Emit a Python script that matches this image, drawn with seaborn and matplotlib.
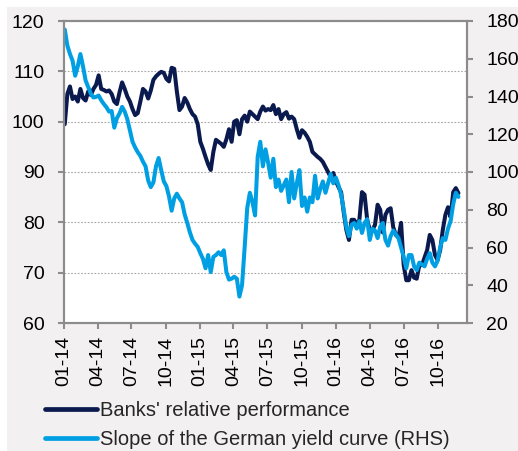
import numpy as np
import pandas as pd
import matplotlib
matplotlib.use("Agg")
import matplotlib.pyplot as plt
import matplotlib.dates as mdates
from matplotlib.patches import Rectangle
import seaborn as sns

# Weekly observations, Friday closes from early January 2014
dates = pd.date_range("2014-01-03", periods=152, freq="7D")

# Banks' relative performance (left axis)
banks = [
    99.5, 105.5, 107.0, 104.5, 105.0, 104.0, 106.5, 104.7, 104.2, 106.0,
    105.3, 106.5, 107.3, 109.2, 106.5, 106.3, 106.0, 106.2, 105.5, 104.0,
    103.5, 105.8, 107.8, 106.5, 105.0, 104.0, 102.5, 101.3, 101.7, 104.0,
    106.5, 106.0, 104.6, 106.2, 108.3, 109.0, 109.5, 109.9, 109.7, 108.5,
    108.0, 110.7, 110.5, 106.0, 102.3, 103.0, 104.7, 103.8, 102.5, 101.5,
    101.0, 99.5, 96.0, 94.6, 93.0, 91.5, 90.4, 94.0, 96.4, 96.0,
    95.6, 95.0, 96.5, 98.5, 96.0, 100.0, 100.3, 97.5, 100.5, 101.2,
    100.0, 102.0, 101.5, 101.0, 100.5, 102.0, 103.0, 102.2, 102.5, 102.3,
    103.3, 101.5, 102.5, 100.5, 101.5, 101.9, 100.6, 101.0, 100.5, 98.5,
    96.8, 98.3, 97.8, 97.0, 96.0, 94.0, 93.5, 93.0, 92.6, 92.0,
    91.0, 90.0, 89.0, 89.8, 88.2, 87.0, 86.0, 82.0, 78.5, 76.5,
    80.5, 80.5, 79.5, 80.5, 86.0, 85.5, 80.5, 78.5, 78.5, 79.5,
    83.5, 82.5, 78.0, 81.5, 82.5, 82.8, 79.0, 77.5, 77.0, 79.9,
    71.5, 68.5, 68.5, 70.5, 69.0, 68.8, 71.5, 71.5, 73.0, 74.5,
    77.5, 76.5, 73.5, 72.5, 74.5, 78.5, 81.5, 83.0, 81.0, 86.0,
    86.8, 85.8,
]

# Slope of the German yield curve, bp (right axis)
slope = [
    175.5, 167.0, 162.5, 159.0, 151.0, 156.0, 162.5, 156.0, 148.5, 145.0,
    141.5, 139.5, 139.8, 140.5, 138.0, 136.0, 134.3, 132.0, 132.3, 123.5,
    128.5, 131.0, 134.5, 132.0, 128.0, 122.0, 116.0, 113.0, 110.5, 108.5,
    105.5, 103.0, 95.5, 92.0, 94.5, 103.0, 107.4, 101.0, 95.0, 92.5,
    87.0, 79.5, 86.0, 88.5, 86.0, 84.0, 77.5, 73.0, 68.0, 64.0,
    62.0, 60.3, 57.0, 54.0, 49.0, 56.0, 47.0, 55.0, 56.0, 57.5,
    56.0, 58.5, 47.0, 43.0, 43.5, 44.5, 43.5, 34.0, 40.0, 60.0,
    81.0, 89.0, 84.0, 77.0, 108.0, 116.0, 103.0, 112.0, 105.0, 97.0,
    107.0, 92.0, 96.0, 90.0, 93.0, 96.0, 84.0, 100.0, 86.0, 94.0,
    101.0, 82.0, 86.5, 79.0, 86.5, 84.0, 98.0, 86.0, 91.0, 95.0,
    89.0, 94.0, 99.0, 94.0, 97.0, 93.0, 88.0, 80.0, 71.0, 66.0,
    72.0, 73.0, 70.0, 74.0, 67.7, 73.0, 75.0, 64.0, 70.0, 69.0,
    65.0, 71.0, 73.0, 64.0, 61.0, 66.0, 69.0, 67.0, 65.0, 60.0,
    55.0, 49.0, 56.0, 56.0, 50.0, 48.0, 52.0, 51.0, 50.0, 54.0,
    57.0, 52.0, 50.0, 53.0, 60.0, 65.0, 64.0, 70.0, 74.0, 83.0,
    89.0, 86.8,
]

labels = ["Banks' relative performance", "Slope of the German yield curve (RHS)"]
navy = "#0b1a4e"
sky = "#009fe3"
frame_grey = "#8c8c8c"

sns.set_style("white")
plt.rcParams["font.family"] = ["Liberation Sans", "DejaVu Sans"]

W, H = 518, 451
fig = plt.figure(figsize=(W / 100, H / 100), dpi=100, facecolor="white")
fig.patches.append(Rectangle((7 / W, 0), 1, (H - 7) / H, transform=fig.transFigure,
                             facecolor="#f2f0f1", edgecolor="none", zorder=-10))

ax = fig.add_axes([64 / W, 128 / H, (467 - 64) / W, (323 - 21) / H])
ax.set_facecolor("white")
ax2 = ax.twinx()

sns.lineplot(x=dates, y=banks, ax=ax, color=navy, linewidth=2.9, label=labels[0], legend=False)
sns.lineplot(x=dates, y=slope, ax=ax2, color=sky, linewidth=2.9, label=labels[1], legend=False)

ax.set_xlim(pd.Timestamp("2014-01-01"), pd.Timestamp("2016-12-18"))
ax.set_ylim(60, 120)
ax.set_yticks(np.arange(60, 121, 10))
ax2.set_ylim(20, 180)
ax2.set_yticks(np.arange(20, 181, 20))

ax.xaxis.set_major_locator(mdates.MonthLocator(bymonth=[1, 4, 7, 10]))
ax.xaxis.set_major_formatter(mdates.DateFormatter("%m-%y"))
for lab in ax.get_xticklabels():
    lab.set_rotation(90)

ax.yaxis.grid(True, linestyle=(0, (1.5, 1.5)), color="#a6a6a6", linewidth=0.8)
ax.set_axisbelow(True)
ax.set_xlabel("")
ax.set_ylabel("")
ax2.set_ylabel("")

for a in (ax, ax2):
    for sp in a.spines.values():
        sp.set_color(frame_grey)
        sp.set_linewidth(1.5)
        sp.set_visible(True)
    a.tick_params(axis="both", which="major", direction="out", length=4,
                  width=1.5, color=frame_grey, labelsize=14, labelcolor="black")
ax.tick_params(axis="y", pad=10, left=True)
ax.tick_params(axis="x", pad=5, bottom=True)
ax2.tick_params(axis="y", pad=10, right=True)

handles = [plt.Line2D([], [], color=navy, linewidth=3.4),
           plt.Line2D([], [], color=sky, linewidth=3.4)]
fig.legend(handles, labels, loc="upper left", bbox_to_anchor=(45 / W, 1 - 401 / H),
           frameon=False, fontsize=14.5, handlelength=2.6, handletextpad=0.15,
           labelspacing=0.5, borderaxespad=0, borderpad=0)

fig.savefig("out.png", dpi=100, facecolor=fig.get_facecolor())
